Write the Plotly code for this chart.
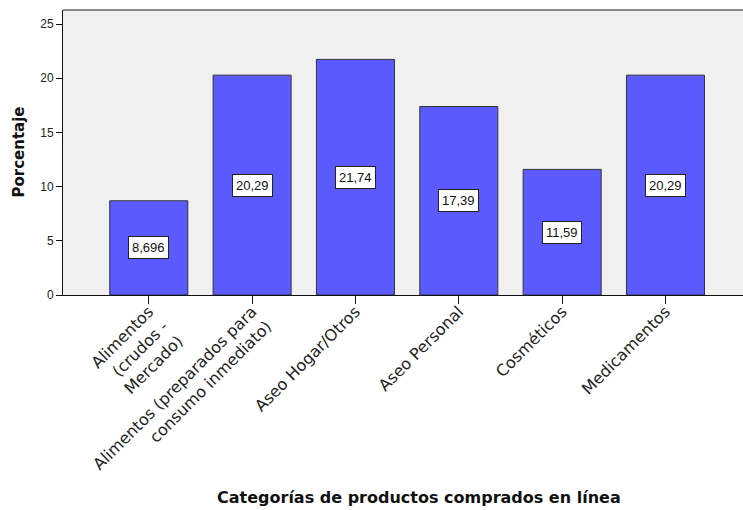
import plotly.graph_objects as go

# Categories, percentages and tick labels
categorias = [
    "Alimentos (crudos - Mercado)",
    "Alimentos (preparados para consumo inmediato)",
    "Aseo Hogar/Otros",
    "Aseo Personal",
    "Cosméticos",
    "Medicamentos",
]
etiquetas = [
    "Alimentos<br>(crudos -<br>Mercado)",
    "Alimentos (preparados para<br>consumo inmediato)",
    "Aseo Hogar/Otros",
    "Aseo Personal",
    "Cosméticos",
    "Medicamentos",
]
porcentajes = [8.696, 20.29, 21.74, 17.39, 11.59, 20.29]
y_ticks = [0, 5, 10, 15, 20, 25]

FONT = "Liberation Sans, Arial, sans-serif"
WIDE = "DejaVu Sans, Verdana, sans-serif"

fig = go.Figure()
fig.add_trace(
    go.Bar(
        x=categorias,
        y=porcentajes,
        width=0.755,
        marker=dict(color="#5a5aff", line=dict(color="#333333", width=1)),
        hoverinfo="x+y",
    )
)

# Value boxes centred inside each bar
for cat, v in zip(categorias, porcentajes):
    fig.add_annotation(
        x=cat,
        y=v / 2,
        text=f"{v:.4g}".replace(".", ","),
        showarrow=False,
        font=dict(family=FONT, size=13, color="#111111"),
        bgcolor="white",
        bordercolor="#222222",
        borderwidth=1,
        borderpad=3,
    )

# Axis titles
fig.add_annotation(
    x=0, xref="paper", xshift=-45, y=0.5, yref="paper",
    text="<b>Porcentaje</b>", textangle=-90, showarrow=False,
    font=dict(family=WIDE, size=15, color="#111111"),
    xanchor="center", yanchor="middle",
)
fig.add_annotation(
    x=0.5235, xref="paper", y=-0.709, yref="paper",
    text="<b>Categorías de productos comprados en línea</b>", showarrow=False,
    font=dict(family=WIDE, size=16, color="#111111"),
    xanchor="center", yanchor="middle",
)

# Grey frame line along the top of the plot area
fig.add_shape(
    type="line", xref="paper", yref="paper", x0=0, x1=1, y0=1, y1=1,
    line=dict(color="#8a8a8a", width=2),
)

fig.update_layout(
    width=743,
    height=510,
    margin=dict(l=63, r=0, t=10, b=215),
    paper_bgcolor="white",
    plot_bgcolor="#f0f0f0",
    showlegend=False,
    font=dict(family=FONT, color="#222222"),
    bargap=0.245,
)
fig.update_xaxes(
    type="category",
    range=[-0.83, 5.75],
    tickvals=categorias,
    ticktext=etiquetas,
    tickangle=-45,
    ticks="outside",
    ticklen=8,
    tickcolor="#111111",
    tickfont=dict(family=WIDE, size=16, color="#222222"),
    ticklabelstandoff=-8,
    showline=True,
    linecolor="#111111",
    linewidth=1,
    showgrid=False,
    zeroline=False,
)
fig.update_yaxes(
    range=[0, 26.3],
    tickvals=y_ticks,
    ticks="outside",
    ticklen=6,
    tickcolor="#111111",
    tickfont=dict(family=FONT, size=12, color="#222222"),
    showline=True,
    linecolor="#111111",
    linewidth=1,
    showgrid=False,
    zeroline=False,
)

fig.write_html("out.html")
